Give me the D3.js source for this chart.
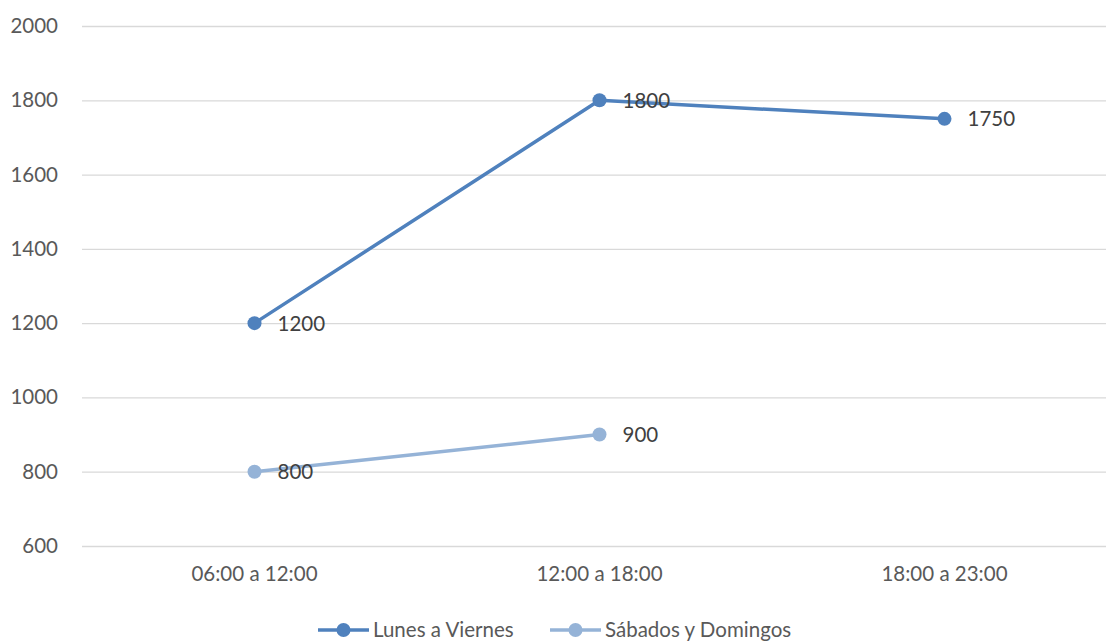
<!DOCTYPE html>
<html>
<head>
<meta charset="utf-8">
<script src="https://cdn.jsdelivr.net/npm/d3@7"></script>
<style>
  body { margin: 0; background: #fff; }
  svg text { font-family: Lato, "Open Sans", sans-serif; }
</style>
</head>
<body>
<div id="chart"></div>
<script>
var categories = ['06:00 a 12:00', '12:00 a 18:00', '18:00 a 23:00'];
var lunesViernes = [1200, 1800, 1750];
var sabadosDomingos = [800, 900, null];
var yTicks = [600, 800, 1000, 1200, 1400, 1600, 1800, 2000];
var seriesNames = ['Lunes a Viernes', 'Sábados y Domingos'];
var seriesColors = ['#4f81bd', '#95b3d7'];

var width = 1106, height = 641;

var svg = d3.select('#chart')
  .append('svg')
  .attr('width', width)
  .attr('height', height);

var x = d3.scaleBand()
  .domain(categories)
  .range([82, 1117]);

var y = d3.scaleLinear()
  .domain([600, 2000])
  .range([546, 26]);

// gridlines
svg.append('g')
  .selectAll('line')
  .data(yTicks)
  .enter()
  .append('line')
  .attr('x1', 82)
  .attr('x2', 1117)
  .attr('y1', function (d) { return y(d) + 0.5; })
  .attr('y2', function (d) { return y(d) + 0.5; })
  .attr('stroke', '#d9d9d9')
  .attr('stroke-width', 1.3);

// y axis labels
var yAxis = svg.append('g')
  .attr('transform', 'translate(58,0)')
  .call(d3.axisLeft(y).tickValues(yTicks).tickFormat(d3.format('d')).tickSize(0).tickPadding(0));
yAxis.select('.domain').remove();
yAxis.selectAll('text')
  .attr('fill', '#595959')
  .style('font-size', '20.5px');

// x axis labels
var xAxis = svg.append('g')
  .attr('transform', 'translate(0,566)')
  .call(d3.axisBottom(x).tickSize(0).tickPadding(0));
xAxis.select('.domain').remove();
xAxis.selectAll('text')
  .attr('fill', '#595959')
  .style('font-size', '20.5px');

var series = [lunesViernes, sabadosDomingos];

var line = d3.line()
  .x(function (d) { return x(d.c) + x.bandwidth() / 2; })
  .y(function (d) { return y(d.v); });

series.forEach(function (vals, i) {
  var pts = vals.map(function (v, j) { return { c: categories[j], v: v }; })
    .filter(function (d) { return d.v != null; });

  svg.append('path')
    .datum(pts)
    .attr('d', line)
    .attr('fill', 'none')
    .attr('stroke', seriesColors[i])
    .attr('stroke-width', 3.5)
    .attr('stroke-linejoin', 'round');

  svg.append('g')
    .selectAll('circle')
    .data(pts)
    .enter()
    .append('circle')
    .attr('cx', function (d) { return x(d.c) + x.bandwidth() / 2; })
    .attr('cy', function (d) { return y(d.v); })
    .attr('r', 7)
    .attr('fill', seriesColors[i]);

  svg.append('g')
    .selectAll('text')
    .data(pts)
    .enter()
    .append('text')
    .attr('x', function (d) { return x(d.c) + x.bandwidth() / 2 + 23; })
    .attr('y', function (d) { return y(d.v); })
    .attr('dy', '0.36em')
    .attr('fill', '#404040')
    .style('font-size', '20.5px')
    .text(function (d) { return d.v; });
});

// legend
var legendX = [318, 550];
var legend = svg.append('g')
  .selectAll('g')
  .data(seriesNames)
  .enter()
  .append('g')
  .attr('transform', function (d, i) { return 'translate(' + legendX[i] + ',630)'; });

legend.append('line')
  .attr('x1', 0).attr('x2', 51)
  .attr('y1', 0).attr('y2', 0)
  .attr('stroke', function (d, i) { return seriesColors[i]; })
  .attr('stroke-width', 3.5);

legend.append('circle')
  .attr('cx', 25.5).attr('cy', 0).attr('r', 7)
  .attr('fill', function (d, i) { return seriesColors[i]; });

legend.append('text')
  .attr('x', 55)
  .attr('y', 0)
  .attr('dy', '0.36em')
  .attr('fill', '#595959')
  .style('font-size', '20.5px')
  .text(function (d) { return d; });
</script>
</body>
</html>
